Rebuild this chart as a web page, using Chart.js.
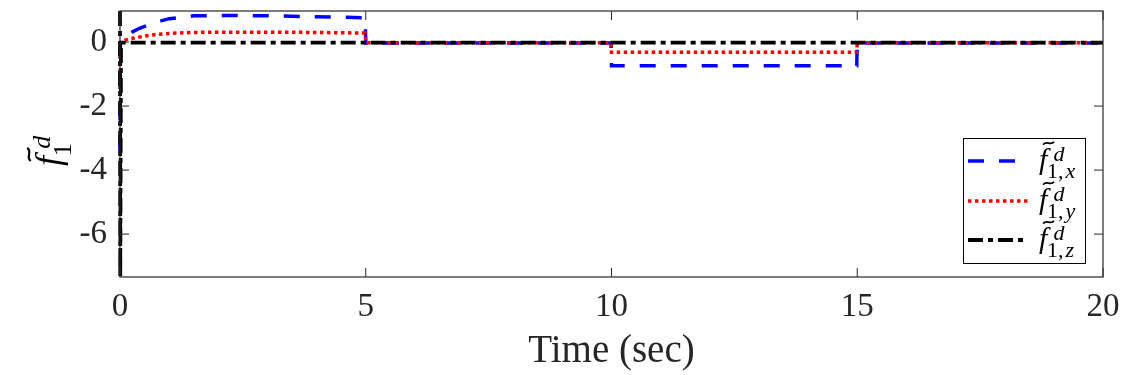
<!DOCTYPE html>
<html>
<head>
<meta charset="utf-8">
<script src="https://cdn.jsdelivr.net/npm/chart.js@4.4.0/dist/chart.umd.min.js"></script>
<style>
  html, body { margin: 0; padding: 0; background: #fff; }
  #wrap { width: 1125px; height: 375px; }
</style>
</head>
<body>
<div id="wrap"><canvas id="chart" width="1125" height="375"></canvas></div>
<script>
// time samples (sec) shared by all three components
const time = [0, 0.005, 0.02, 0.1, 0.2, 0.4, 0.7, 1.0, 1.5, 2.0, 3.0, 4.0, 4.99, 5.0, 7.5, 9.99, 10.0, 12.5, 14.99, 15.0, 17.5, 20.0];
const fx = [-3.4, -0.1, 0.05, 0.2, 0.28, 0.43, 0.6, 0.73, 0.82, 0.83, 0.82, 0.79, 0.76, -0.03, -0.03, -0.03, -0.74, -0.74, -0.74, -0.03, -0.03, -0.03];
const fy = [-1.4, -0.05, 0.0, 0.06, 0.1, 0.16, 0.23, 0.27, 0.3, 0.31, 0.31, 0.3, 0.28, -0.02, -0.02, -0.02, -0.32, -0.32, -0.32, -0.02, -0.02, -0.02];
const fz = [0.97, -7.34, -0.02, -0.02, -0.02, -0.02, -0.02, -0.02, -0.02, -0.02, -0.02, -0.02, -0.02, -0.02, -0.02, -0.02, -0.02, -0.02, -0.02, -0.02, -0.02, -0.02];

const xTicks = [0, 5, 10, 15, 20];
const yTicks = [-6, -4, -2, 0];
const legendSubs = ['x', 'y', 'z'];

const SERIF = '"Liberation Serif", "DejaVu Serif", serif';
const AXIS_COLOR = '#262626';

function toPoints(vals) {
    return time.map((t, i) => ({ x: t, y: vals[i] }));
}

// italic f with tilde, superscript d and a subscript like "1,x"
function drawFTilde(ctx, x, base, size, sub) {
    ctx.fillStyle = '#000';
    ctx.textAlign = 'left';
    ctx.textBaseline = 'alphabetic';
    ctx.font = `italic ${size}px ${SERIF}`;
    ctx.fillText('f', x, base);

    // tilde accent
    const tw = size * 0.36, tx = x + size * 0.14, ty = base - size * 0.86, a = size * 0.05;
    ctx.beginPath();
    ctx.moveTo(tx, ty + a);
    ctx.bezierCurveTo(tx + tw * 0.3, ty - a * 2.2, tx + tw * 0.7, ty + a * 2.2, tx + tw, ty - a);
    ctx.lineWidth = size * 0.06;
    ctx.strokeStyle = '#000';
    ctx.stroke();

    const small = Math.round(size * 0.72);
    ctx.font = `italic ${small}px ${SERIF}`;
    ctx.fillText('d', x + size * 0.48, base - size * 0.27);

    // subscript: digits/commas upright, letters italic
    let sx = x + size * 0.27;
    const sb = base + size * 0.3;
    for (const ch of sub) {
        const isLetter = /[a-z]/.test(ch);
        ctx.font = `${isLetter ? 'italic ' : ''}${small}px ${SERIF}`;
        ctx.fillText(ch, sx, sb);
        sx += ctx.measureText(ch).width + (ch === ',' ? 2 : 0);
    }
}

const decorPlugin = {
    id: 'decor',
    beforeDraw(chart) {
        const ctx = chart.ctx;
        ctx.save();
        ctx.fillStyle = '#fff';
        ctx.fillRect(0, 0, chart.width, chart.height);
        ctx.restore();
    },
    afterDraw(chart) {
        const ctx = chart.ctx;
        const ca = chart.chartArea;
        const xs = chart.scales.x, ys = chart.scales.y;
        ctx.save();

        // axes box
        ctx.strokeStyle = AXIS_COLOR;
        ctx.lineWidth = 1.2;
        ctx.strokeRect(ca.left, ca.top, ca.right - ca.left, ca.bottom - ca.top);

        // inward tick marks on all four sides
        const tl = 9;
        ctx.lineWidth = 1;
        ctx.beginPath();
        xTicks.forEach(v => {
            const px = xs.getPixelForValue(v);
            ctx.moveTo(px, ca.bottom); ctx.lineTo(px, ca.bottom - tl);
            ctx.moveTo(px, ca.top); ctx.lineTo(px, ca.top + tl);
        });
        yTicks.forEach(v => {
            const py = ys.getPixelForValue(v);
            ctx.moveTo(ca.left, py); ctx.lineTo(ca.left + tl, py);
            ctx.moveTo(ca.right, py); ctx.lineTo(ca.right - tl, py);
        });
        ctx.stroke();

        // x axis title
        ctx.fillStyle = AXIS_COLOR;
        ctx.font = `39px ${SERIF}`;
        ctx.textAlign = 'center';
        ctx.textBaseline = 'alphabetic';
        ctx.fillText('Time (sec)', (ca.left + ca.right) / 2, 362);

        // y axis title, rotated
        ctx.save();
        ctx.translate(60, 144);
        ctx.rotate(-Math.PI / 2);
        drawFTilde(ctx, -22, 0, 36, '1');
        ctx.restore();

        // legend
        const lx = 963, ly = 138, lw = 122, lh = 125;
        ctx.fillStyle = '#fff';
        ctx.fillRect(lx, ly, lw, lh);
        ctx.strokeStyle = '#000';
        ctx.lineWidth = 1;
        ctx.strokeRect(lx + 0.5, ly + 0.5, lw, lh);
        const rows = [161, 201, 240];
        chart.data.datasets.forEach((ds, i) => {
            const yc = rows[i];
            ctx.beginPath();
            ctx.setLineDash(ds.borderDash);
            ctx.strokeStyle = ds.borderColor;
            ctx.lineWidth = ds.borderWidth;
            ctx.moveTo(968, yc);
            ctx.lineTo(1028, yc);
            ctx.stroke();
            ctx.setLineDash([]);
            drawFTilde(ctx, 1039, yc + 8, 30, '1,' + legendSubs[i]);
        });
        ctx.restore();
    }
};

new Chart(document.getElementById('chart'), {
    type: 'line',
    data: {
        datasets: [
            { label: 'fx', data: toPoints(fx), borderColor: '#0000ff', borderWidth: 3.5, borderDash: [16, 15], order: 3 },
            { label: 'fy', data: toPoints(fy), borderColor: '#ff0000', borderWidth: 3.5, borderDash: [3.5, 3.5], order: 2 },
            { label: 'fz', data: toPoints(fz), borderColor: '#000000', borderWidth: 3.8, borderDash: [15, 5, 5, 5], order: 1 }
        ]
    },
    options: {
        responsive: false,
        animation: false,
        events: [],
        layout: { padding: { top: 11, right: 22, bottom: 0, left: 0 } },
        elements: { point: { radius: 0 }, line: { tension: 0, fill: false } },
        datasets: { line: { clip: 3 } },
        plugins: { legend: { display: false }, tooltip: { enabled: false } },
        scales: {
            x: {
                type: 'linear',
                min: 0,
                max: 20,
                afterBuildTicks: s => { s.ticks = xTicks.map(v => ({ value: v })); },
                afterFit: s => { s.height = 98; s.paddingLeft = 0; s.paddingRight = 0; },
                grid: { display: false, drawTicks: false },
                border: { display: false },
                ticks: { font: { family: SERIF, size: 33 }, color: AXIS_COLOR, padding: 11, maxRotation: 0, autoSkip: false }
            },
            y: {
                type: 'linear',
                min: -7.34,
                max: 0.97,
                afterBuildTicks: s => { s.ticks = yTicks.map(v => ({ value: v })); },
                afterFit: s => { s.width = 120; s.paddingTop = 0; s.paddingBottom = 0; },
                grid: { display: false, drawTicks: false },
                border: { display: false },
                ticks: { font: { family: SERIF, size: 33 }, color: AXIS_COLOR, padding: 13 }
            }
        }
    },
    plugins: [decorPlugin]
});
</script>
</body>
</html>
